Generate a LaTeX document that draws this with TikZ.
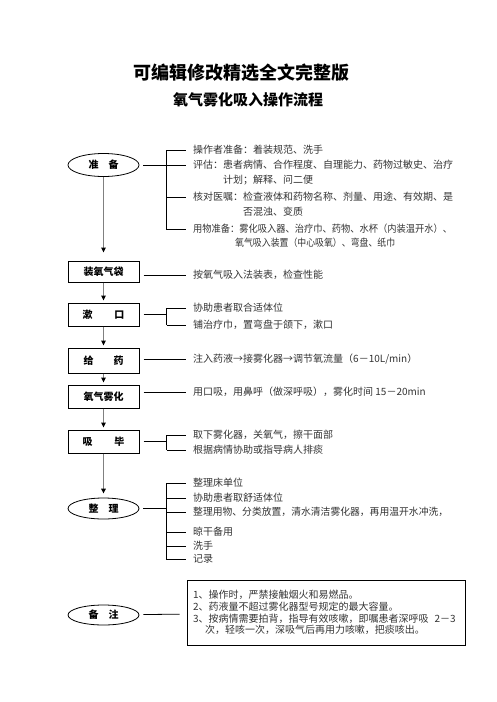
\documentclass[tikz,border=0pt]{standalone}
\usepackage{fontspec}
\usepackage{graphicx}
\setmainfont{Noto Sans CJK SC}
\usetikzlibrary{positioning,shapes.geometric,arrows.meta}

\tikzset{
  stepbox/.style={draw, line width=1pt, rectangle, minimum width=71pt, minimum height=23pt,
    inner sep=0pt, font=\fontsize{10}{12}\selectfont\bfseries},
  ovalbox/.style={draw, line width=0.8pt, ellipse, minimum width=71pt, minimum height=23pt,
    inner sep=0pt, font=\fontsize{10}{12}\selectfont\bfseries},
  item/.style={anchor=west, inner sep=0pt, font=\fontsize{10}{12}\selectfont, text=black!80},
  flow/.style={draw=gray, line width=1.5pt, -{Triangle[color=black, length=5pt, width=4.5pt]}, shorten >=2pt},
  link/.style={line width=0.8pt},
}

% stretch or squeeze one line of text to a given width
\newcommand{\fitline}[2]{\resizebox{#1}{\height}{#2}}

\begin{document}
\begin{tikzpicture}[x=1pt, y=-1pt]
    \useasboundingbox (0,0) rectangle (496,702);

    % Titles
    \node[font=\fontsize{18}{20}\selectfont\bfseries] (title) at (241,73) {可编辑修改精选全文完整版};
    \node[font=\fontsize{15}{18}\selectfont\bfseries] (subtitle) at (248,100) {氧气雾化吸入操作流程};

    % Left column
    \node[ovalbox] (prep) at (103.5,165) {准\hspace{1em}备};
    \node[stepbox, minimum height=21pt] (bag) at (103.5,271.5) {装氧气袋};
    \node[stepbox] (rinse) at (103.5,314.5) {漱\hspace{2.2em}口};
    \node[stepbox, minimum height=25pt] (drug) at (103.5,360.5) {给\hspace{2em}药};
    \node[stepbox] (mist) at (103.5,396.5) {氧气雾化};
    \node[stepbox] (finish) at (103.5,441.5) {吸\hspace{2.2em}毕};
    \node[ovalbox, minimum height=21pt] (tidy) at (103.5,508.5) {整\hspace{1em}理};
    \node[ovalbox, minimum height=20pt] (note) at (103.5,615) {备\hspace{1em}注};

    % Flow arrows
    \draw[flow, shorten >=8pt] (prep) -- (bag);
    \draw[flow] (bag) -- (rinse);
    \draw[flow] (rinse) -- (drug);
    \draw[flow] (drug) -- (mist);
    \draw[flow] (mist) -- (finish);
    \draw[flow, shorten >=4pt] (finish) -- (tidy);

    % Preparation
    \node[item] (p1) at (193,150) {操作者准备：着装规范、洗手};
    \node[item] (p2) at (193,165) {\fitline{260pt}{评估：患者病情、合作程度、自理能力、药物过敏史、治疗}};
    \node[item] (p2b) at (223,180) {计划；解释、问二便};
    \node[item] (p3) at (193,197) {\fitline{260pt}{核对医嘱：检查液体和药物名称、剂量、用途、有效期、是}};
    \node[item] (p3b) at (243,212) {否混浊、变质};
    \node[item] (p4) at (193,229) {\fitline{259pt}{用物准备：雾化吸入器、治疗巾、药物、水杯（内装温开水）、}};
    \node[item] (p4b) at (235,243) {\fitline{160pt}{氧气吸入装置（中心吸氧）、弯盘、纸巾}};
    \coordinate[right=27pt of prep.east] (pb);
    \draw[link, shorten <=4pt] (prep) -- (pb);
    \draw[link] (pb |- p1.west) -- (pb |- p4.west);
    \draw[link] (pb |- p1.west) -- ([xshift=-7pt]p1.west);
    \draw[link] (pb |- p2.west) -- ([xshift=-7pt]p2.west);
    \draw[link] (pb |- p3.west) -- ([xshift=-7pt]p3.west);
    \draw[link] (pb |- p4.west) -- ([xshift=-7pt]p4.west);

    % Oxygen bag
    \node[item] (bagtxt) at (193,275) {按氧气吸入法装表，检查性能};
    \draw[link, shorten <=4pt] (bag.east |- bagtxt.west) -- ([xshift=-7pt]bagtxt.west);

    % Rinse
    \node[item] (r1) at (193,308) {协助患者取合适体位};
    \node[item] (r2) at (193,325) {铺治疗巾，置弯盘于颌下，漱口};
    \coordinate[right=27pt of rinse.east] (rb);
    \draw[link, shorten <=4pt] (rinse) -- (rb);
    \draw[link] (rb |- r1.west) -- (rb |- r2.west);
    \draw[link] (rb |- r1.west) -- ([xshift=-7pt]r1.west);
    \draw[link] (rb |- r2.west) -- ([xshift=-7pt]r2.west);

    % Drug
    \node[item] (d1) at (193,359) {注入药液→接雾化器→调节氧流量（6－10L/min）};
    \draw[link, shorten <=4pt] (drug.east |- d1.west) -- ([xshift=-7pt]d1.west);

    % Nebulising
    \node[item] (m1) at (193,392) {用口吸，用鼻呼（做深呼吸），雾化时间 15－20min};
    \draw[link, shorten <=4pt] (mist.east |- m1.west) -- ([xshift=-7pt]m1.west);

    % Finish
    \node[item] (f1) at (193,435) {取下雾化器，关氧气，擦干面部};
    \node[item] (f2) at (193,450) {根据病情协助或指导病人排痰};
    \coordinate[right=27pt of finish.east] (fb);
    \draw[link, shorten <=4pt] (finish) -- (fb);
    \draw[link] (fb |- f1.west) -- (fb |- f2.west);
    \draw[link] (fb |- f1.west) -- ([xshift=-7pt]f1.west);
    \draw[link] (fb |- f2.west) -- ([xshift=-7pt]f2.west);

    % Tidy up
    \node[item] (t1) at (193,483) {整理床单位};
    \node[item] (t2) at (193,498) {协助患者取舒适体位};
    \node[item] (t3) at (193,512) {\fitline{255pt}{整理用物、分类放置，清水清洁雾化器，再用温开水冲洗，}};
    \node[item] (t4) at (193,532) {晾干备用};
    \node[item] (t5) at (193,546) {洗手};
    \node[item] (t6) at (193,559) {记录};
    \coordinate[right=27pt of tidy.east] (tb);
    \draw[link, shorten <=4pt] (tidy) -- (tb);
    \draw[link] (tb |- t1.west) -- (tb |- t6.west);
    \draw[link] (tb |- t1.west) -- ([xshift=-7pt]t1.west);
    \draw[link] (tb |- t2.west) -- ([xshift=-7pt]t2.west);
    \draw[link] (tb |- t3.west) -- ([xshift=-7pt]t3.west);
    \draw[link] (tb |- t4.west) -- ([xshift=-7pt]t4.west);
    \draw[link] (tb |- t5.west) -- ([xshift=-7pt]t5.west);
    \draw[link] (tb |- t6.west) -- ([xshift=-7pt]t6.west);

    % Remarks
    \node[draw, line width=1pt, minimum width=278pt, minimum height=65pt, inner sep=6pt,
          text width=266pt, align=left, text=black!80, font=\fontsize{10}{11.7}\selectfont] (notes) at (326,612.5)
        {1、操作时，严禁接触烟火和易燃品。\\
         2、药液量不超过雾化器型号规定的最大容量。\\
         3、按病情需要拍背，指导有效咳嗽，即嘱患者深呼吸\nobreak\hspace{6pt}2－3\\
         \hspace*{12pt}次，轻咳一次，深吸气后再用力咳嗽，把痰咳出。};
    \draw[link, shorten <=4pt, shorten >=7pt] (note) -- (notes);

\end{tikzpicture}
\end{document}
